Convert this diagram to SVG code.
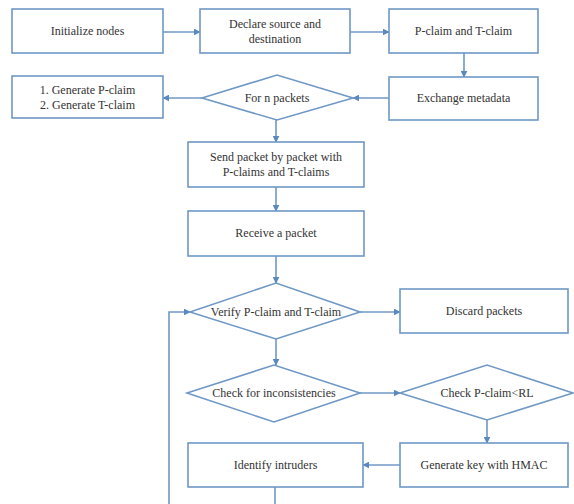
<svg xmlns="http://www.w3.org/2000/svg" width="574" height="504" viewBox="0 0 574 504" font-family="'Liberation Serif', 'DejaVu Serif', serif">
<style>
.n{fill:#ffffff;stroke:#6f98c6;stroke-width:1.6}
.t{font-size:12px;fill:#333333;text-anchor:middle}
.c{fill:none;stroke:#6f98c6;stroke-width:1.6}
</style>
<defs>
<marker id="a" viewBox="0 0 10 10" refX="9" refY="5" markerWidth="7" markerHeight="7" orient="auto" markerUnits="userSpaceOnUse">
<path d="M0,0 L10,5 L0,10 z" fill="#5b88bf"/>
</marker>
</defs>
<rect width="574" height="504" fill="#ffffff"/>
<g id="connectors">
<path class="c" d="M163,32 L200,32" marker-end="url(#a)"/>
<path class="c" d="M350,32 L389,32" marker-end="url(#a)"/>
<path class="c" d="M464,53 L464,77" marker-end="url(#a)"/>
<path class="c" d="M389,98 L353,98" marker-end="url(#a)"/>
<path class="c" d="M202,98 L163,98" marker-end="url(#a)"/>
<path class="c" d="M276,120 L276,142" marker-end="url(#a)"/>
<path class="c" d="M276,187 L276,211" marker-end="url(#a)"/>
<path class="c" d="M276,256 L276,283" marker-end="url(#a)"/>
<path class="c" d="M360,312 L400,312" marker-end="url(#a)"/>
<path class="c" d="M276,339 L276,365" marker-end="url(#a)"/>
<path class="c" d="M360,393 L400,393" marker-end="url(#a)"/>
<path class="c" d="M487,420 L487,443" marker-end="url(#a)"/>
<path class="c" d="M400,465 L363,465" marker-end="url(#a)"/>
<path class="c" d="M275,487 L275,505"/>
<path class="c" d="M169,505 L169,312 L190,312" marker-end="url(#a)"/>
</g>
<g id="init"><rect class="n" x="12" y="9" width="151" height="44"/><text class="t" x="87.5" y="35">Initialize nodes</text></g>
<g id="declare"><rect class="n" x="200" y="9" width="150" height="44"/><text class="t" x="275" y="28">Declare source and</text><text class="t" x="275" y="43">destination</text></g>
<g id="pclaim"><rect class="n" x="389" y="9" width="149" height="44"/><text class="t" x="463.5" y="35">P-claim and T-claim</text></g>
<g id="exchange"><rect class="n" x="389" y="77" width="149" height="43"/><text class="t" x="463.5" y="102">Exchange metadata</text></g>
<g id="forn"><polygon class="n" points="202,98 277,75 353,98 277,120"/><text class="t" x="277" y="102">For n packets</text></g>
<g id="generate"><rect class="n" x="12" y="76" width="151" height="42"/><text class="t" x="87.5" y="94">1. Generate P-claim</text><text class="t" x="87.5" y="109">2. Generate T-claim</text></g>
<g id="send"><rect class="n" x="188" y="142" width="176" height="45"/><text class="t" x="276" y="161">Send packet by packet with</text><text class="t" x="276" y="176">P-claims and T-claims</text></g>
<g id="receive"><rect class="n" x="188" y="211" width="176" height="45"/><text class="t" x="276" y="237">Receive a packet</text></g>
<g id="verify"><polygon class="n" points="190,312 276,283 360,312 276,339"/><text class="t" x="276" y="316">Verify P-claim and T-claim</text></g>
<g id="discard"><rect class="n" x="400" y="289" width="168" height="44"/><text class="t" x="484" y="315">Discard packets</text></g>
<g id="check"><polygon class="n" points="187,393 274,365 360,393 274,422"/><text class="t" x="274" y="397">Check for inconsistencies</text></g>
<g id="checkrl"><polygon class="n" points="400,393 487,365 573,393 487,420"/><text class="t" x="487" y="397">Check P-claim&lt;RL</text></g>
<g id="hmac"><rect class="n" x="400" y="443" width="168" height="44"/><text class="t" x="484" y="469">Generate key with HMAC</text></g>
<g id="identify"><rect class="n" x="188" y="443" width="175" height="44"/><text class="t" x="275.5" y="469">Identify intruders</text></g>
</svg>
